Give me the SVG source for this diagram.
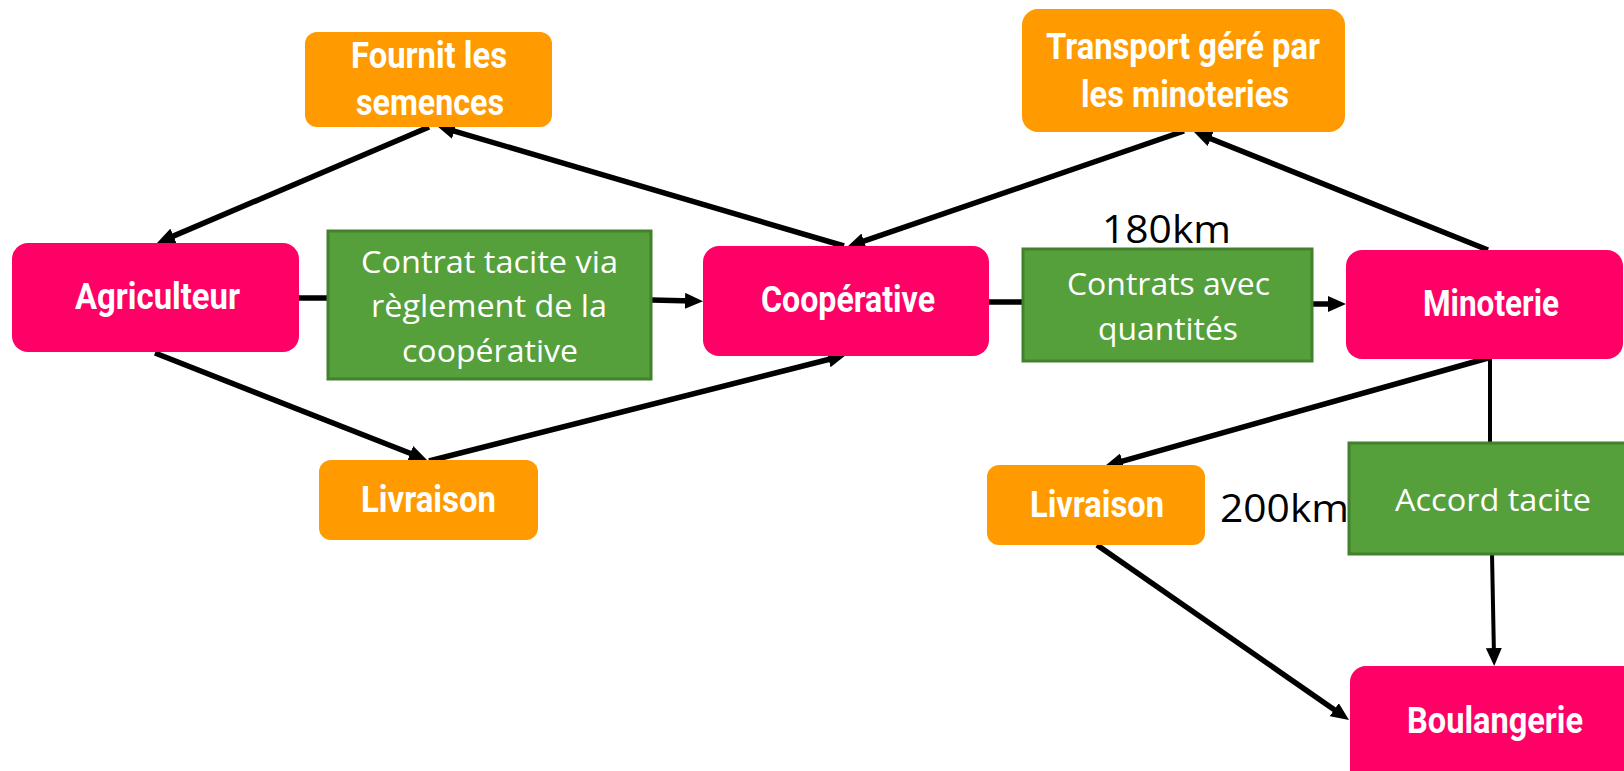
<svg xmlns="http://www.w3.org/2000/svg" width="1624" height="771" viewBox="0 0 1624 771">
  <style>
    .pink { fill: #FF0066; }
    .orange { fill: #FF9A00; }
    .green { fill: #55A03B; stroke: #43802D; stroke-width: 3; }
    .head { font-family: Roboto, "Liberation Sans", sans-serif; font-weight: bold; font-size: 36px; fill: #FFFFFF; text-anchor: middle; }
    .body { font-family: "Open Sans", "Noto Sans", sans-serif; font-size: 31px; fill: #FFFFFF; text-anchor: middle; }
    .km { font-family: "Open Sans", "Noto Sans", sans-serif; font-size: 38px; fill: #000000; }
    .conn { stroke: #000000; stroke-width: 5.5; fill: none; }
    .arr { marker-end: url(#ah); }
  </style>
  <defs>
    <marker id="ah" viewBox="0 0 18 16" refX="8" refY="8" markerWidth="18" markerHeight="16" markerUnits="userSpaceOnUse" orient="auto">
      <path d="M0,0 L18,8 L0,16 z" fill="#000000"/>
    </marker>
  </defs>
  <rect width="1624" height="771" fill="#FFFFFF"/>

  <g id="connectors">
    <line class="conn arr" x1="429" y1="127" x2="166.2" y2="239.1"/>
    <line class="conn arr" x1="844" y1="246" x2="446.6" y2="128.8"/>
    <line class="conn" x1="299" y1="298" x2="328" y2="298"/>
    <line class="conn arr" x1="651" y1="300" x2="693" y2="301"/>
    <line class="conn arr" x1="155" y1="353" x2="417.7" y2="456.3"/>
    <line class="conn arr" x1="429" y1="461" x2="836.3" y2="357.5"/>
    <line class="conn" x1="989" y1="302" x2="1023" y2="302"/>
    <line class="conn arr" x1="1312" y1="304" x2="1336" y2="304"/>
    <line class="conn arr" x1="1184" y1="131" x2="856.5" y2="243.7"/>
    <line class="conn arr" x1="1488" y1="250" x2="1203.3" y2="135.7"/>
    <line class="conn arr" x1="1488" y1="358" x2="1114.6" y2="463.3"/>
    <line class="conn" x1="1490" y1="358" x2="1490" y2="443" style="stroke-width:4"/>
    <line class="conn arr" x1="1492" y1="554" x2="1494" y2="656" style="stroke-width:4"/>
    <line class="conn arr" x1="1097" y1="545" x2="1340.8" y2="714.3"/>
  </g>

  <g id="label-180km">
    <text class="km" x="1102" y="243" textLength="129" lengthAdjust="spacingAndGlyphs">180km</text>
  </g>
  <g id="label-200km">
    <text class="km" x="1220" y="522" textLength="129" lengthAdjust="spacingAndGlyphs">200km</text>
  </g>

  <g id="fournit">
    <rect class="orange" x="305" y="32" width="247" height="95" rx="12"/>
    <text class="head" x="429" y="68" textLength="156" lengthAdjust="spacingAndGlyphs">Fournit les</text>
    <text class="head" x="430" y="115" textLength="148" lengthAdjust="spacingAndGlyphs">semences</text>
  </g>

  <g id="transport">
    <rect class="orange" x="1022" y="9" width="323" height="123" rx="16"/>
    <text class="head" x="1183" y="59" textLength="274" lengthAdjust="spacingAndGlyphs">Transport géré par</text>
    <text class="head" x="1185" y="107" textLength="208" lengthAdjust="spacingAndGlyphs">les minoteries</text>
  </g>

  <g id="agriculteur">
    <rect class="pink" x="12" y="243" width="287" height="109" rx="16"/>
    <text class="head" x="157.5" y="309" textLength="165" lengthAdjust="spacingAndGlyphs">Agriculteur</text>
  </g>

  <g id="contrat-tacite">
    <rect class="green" x="328" y="231" width="323" height="148"/>
    <text class="body" x="489.5" y="273" textLength="257" lengthAdjust="spacingAndGlyphs">Contrat tacite via</text>
    <text class="body" x="489" y="317" textLength="236" lengthAdjust="spacingAndGlyphs">règlement de la</text>
    <text class="body" x="490" y="362" textLength="176" lengthAdjust="spacingAndGlyphs">coopérative</text>
  </g>

  <g id="cooperative">
    <rect class="pink" x="703" y="246" width="286" height="110" rx="16"/>
    <text class="head" x="848" y="312" textLength="174" lengthAdjust="spacingAndGlyphs">Coopérative</text>
  </g>

  <g id="contrats-quantites">
    <rect class="green" x="1023" y="249" width="289" height="112"/>
    <text class="body" x="1168.5" y="295" textLength="203" lengthAdjust="spacingAndGlyphs">Contrats avec</text>
    <text class="body" x="1168" y="340" textLength="140" lengthAdjust="spacingAndGlyphs">quantités</text>
  </g>

  <g id="minoterie">
    <rect class="pink" x="1346" y="250" width="277" height="109" rx="16"/>
    <text class="head" x="1491" y="316" textLength="136" lengthAdjust="spacingAndGlyphs">Minoterie</text>
  </g>

  <g id="livraison-1">
    <rect class="orange" x="319" y="460" width="219" height="80" rx="12"/>
    <text class="head" x="428.5" y="512" textLength="135" lengthAdjust="spacingAndGlyphs">Livraison</text>
  </g>

  <g id="livraison-2">
    <rect class="orange" x="987" y="465" width="218" height="80" rx="12"/>
    <text class="head" x="1097" y="517" textLength="134" lengthAdjust="spacingAndGlyphs">Livraison</text>
  </g>

  <g id="accord-tacite">
    <rect class="green" x="1349" y="443" width="290" height="111"/>
    <text class="body" x="1493" y="511" textLength="196" lengthAdjust="spacingAndGlyphs">Accord tacite</text>
  </g>

  <g id="boulangerie">
    <rect class="pink" x="1350" y="666" width="290" height="120" rx="16"/>
    <text class="head" x="1495" y="733" textLength="176" lengthAdjust="spacingAndGlyphs">Boulangerie</text>
  </g>
</svg>
